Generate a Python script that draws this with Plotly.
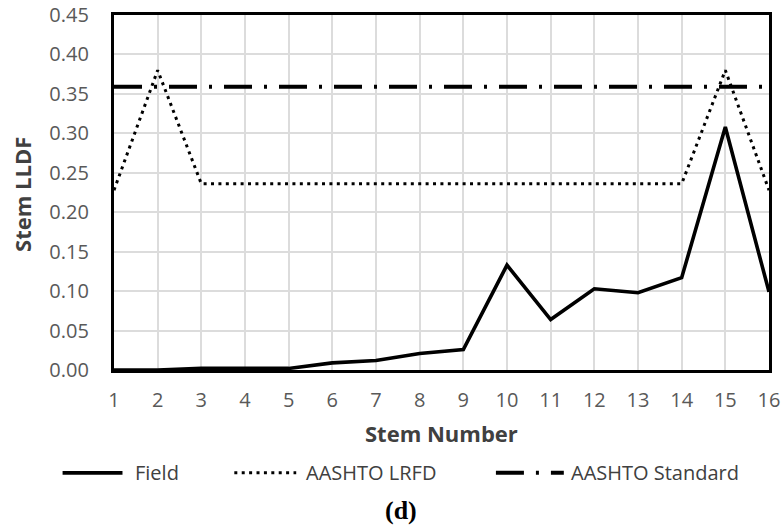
import plotly.graph_objects as go

# Stem numbers along the deck
stems = list(range(1, 17))

# Live-load distribution factors per stem
field_lldf = [0.0, 0.0, 0.002, 0.002, 0.002, 0.009, 0.012, 0.021, 0.026,
              0.133, 0.064, 0.103, 0.098, 0.117, 0.308, 0.099]
lrfd_lldf = [0.228, 0.380, 0.236, 0.236, 0.236, 0.236, 0.236, 0.236, 0.236,
             0.236, 0.236, 0.236, 0.236, 0.236, 0.380, 0.228]
standard_lldf = [0.359] * 16

y_ticks = [0.00, 0.05, 0.10, 0.15, 0.20, 0.25, 0.30, 0.35, 0.40, 0.45]

FONT = "Open Sans, Lato, sans-serif"
W, H = 782, 525
L, R, T, B = 113.5, 12.5, 14.5, 155
PW, PH = W - L - R, H - T - B


def px_to_paper(px, py):
    """Convert page pixel position to paper coordinates."""
    return (px - L) / PW, (H - B - py) / PH


series = [
    dict(name="Field", y=field_lldf,
         line=dict(color="black", width=3.6, dash="solid"),
         key=(62, 122, 133)),
    dict(name="AASHTO LRFD", y=lrfd_lldf,
         line=dict(color="black", width=3.0, dash="3px,4.4px"),
         key=(234, 296, 304)),
    dict(name="AASHTO Standard", y=standard_lldf,
         line=dict(color="black", width=4.0, dash="28px,12px,3px,12px"),
         key=(496, 564, 569)),
]

fig = go.Figure()
for s in series:
    fig.add_trace(go.Scatter(x=stems, y=s["y"], mode="lines", name=s["name"],
                             line=s["line"], showlegend=False))

tick_font = dict(family=FONT, size=20, color="#595959")

fig.update_xaxes(range=[1, 16], tickvals=stems, ticktext=[str(v) for v in stems],
                 showgrid=True, gridcolor="#dcdcdc", gridwidth=1.5,
                 showline=True, linecolor="black", linewidth=3.2, mirror=True,
                 ticks="outside", ticklen=10, tickcolor="rgba(0,0,0,0)",
                 tickfont=tick_font, zeroline=False, automargin=False)
fig.update_yaxes(range=[0, 0.45], tickvals=y_ticks, ticktext=[f"{v:.2f}" for v in y_ticks],
                 showgrid=True, gridcolor="#dcdcdc", gridwidth=1.5,
                 showline=True, linecolor="black", linewidth=3.2, mirror=True,
                 ticks="outside", ticklen=18, tickcolor="rgba(0,0,0,0)",
                 tickfont=tick_font, zeroline=False, automargin=False)

title_font = dict(family=FONT, size=22, color="#404040")

# Axis titles
x0, y0 = px_to_paper(442, 433)
fig.add_annotation(text="<b>Stem Number</b>", xref="paper", yref="paper",
                   x=x0, y=y0, xanchor="center", yanchor="middle",
                   showarrow=False, font=title_font)
x0, y0 = px_to_paper(22, 194)
fig.add_annotation(text="<b>Stem LLDF</b>", xref="paper", yref="paper",
                   x=x0, y=y0, xanchor="center", yanchor="middle", textangle=-90,
                   showarrow=False, font=title_font)

# Legend row: sample line plus series name
legend_y = 473
for s in series:
    lx0, lx1, tx = s["key"]
    ax0, ay = px_to_paper(lx0, legend_y)
    ax1, _ = px_to_paper(lx1, legend_y)
    fig.add_shape(type="line", xref="paper", yref="paper",
                  x0=ax0, x1=ax1, y0=ay, y1=ay,
                  line=dict(color="black", width=s["line"]["width"], dash=s["line"]["dash"]))
    atx, _ = px_to_paper(tx, legend_y)
    fig.add_annotation(text=s["name"], xref="paper", yref="paper",
                       x=atx, y=ay, xanchor="left", yanchor="middle",
                       showarrow=False,
                       font=dict(family=FONT, size=20, color="#404040"))

# Panel label
x0, y0 = px_to_paper(401, 511)
fig.add_annotation(text="<b>(d)</b>", xref="paper", yref="paper",
                   x=x0, y=y0, xanchor="center", yanchor="middle", showarrow=False,
                   font=dict(family="Liberation Serif, Times New Roman, serif", size=26, color="black"))

fig.update_layout(
    width=W, height=H,
    margin=dict(l=L, r=R, t=T, b=B, autoexpand=False),
    plot_bgcolor="white", paper_bgcolor="white",
    showlegend=False,
)

fig.write_html("out.html")
